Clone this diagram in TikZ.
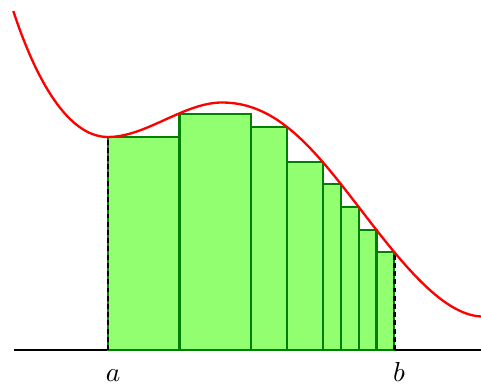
\documentclass[tikz,border=0pt]{standalone}
\definecolor{barfill}{RGB}{145,255,112}
\definecolor{barline}{RGB}{0,128,0}
\begin{document}
\begin{tikzpicture}[x=0.365pt,y=-0.365pt,
  curve/.style={red, line width=0.85pt},
  bar/.style={draw=barline, fill=barfill, line width=0.8pt},
  axisline/.style={black, line width=0.8pt},
  guide/.style={black, line width=0.9pt, dash pattern=on 1.8pt off 1.2pt},
  lab/.style={anchor=base, inner sep=0pt}]
\useasboundingbox (0,0) rectangle (481,385);
% axis
\coordinate (axL) at (14,350);
\coordinate (axR) at (481,350);
\draw[axisline] (axL) -- (axR);
% bars (lower sum)
\foreach \xa/\xb/\yt in {108/179.5/137, 179.5/251.3/113.6, 251.3/287.2/126.7, 287.2/323/162.3,
  323/340.8/184, 340.8/358.7/207, 358.7/376.5/230, 376.5/394.3/252.3}{
  \draw[bar] (\xa,350) rectangle (\xb,\yt);
}
% dashed guides at a and b
\coordinate (a0) at (108,350);
\coordinate (a1) at (108,137);
\coordinate (b0) at (394.3,350);
\coordinate (b1) at (394.3,252.3);
\draw[guide] (a0) -- (a1);
\draw[guide] (b0) -- (b1);
% curve
\coordinate (p0) at (13.3,11);
\coordinate (p1) at (108,137);
\coordinate (p2) at (222,102.5);
\coordinate (p3) at (358.7,207);
\coordinate (p4) at (481,316.5);
\draw[curve] (p0) .. controls (36,80) and (68,137) .. (p1)
  .. controls (146,137) and (184,102.5) .. (p2)
  .. controls (277,102.5) and (313.7,148.5) .. (p3)
  .. controls (398.7,259) and (441,314.5) .. (p4);
% labels
\node[lab] (la) at (113,381.5) {$a$};
\node[lab] (lb) at (399,381.5) {$b$};
\end{tikzpicture}
\end{document}
